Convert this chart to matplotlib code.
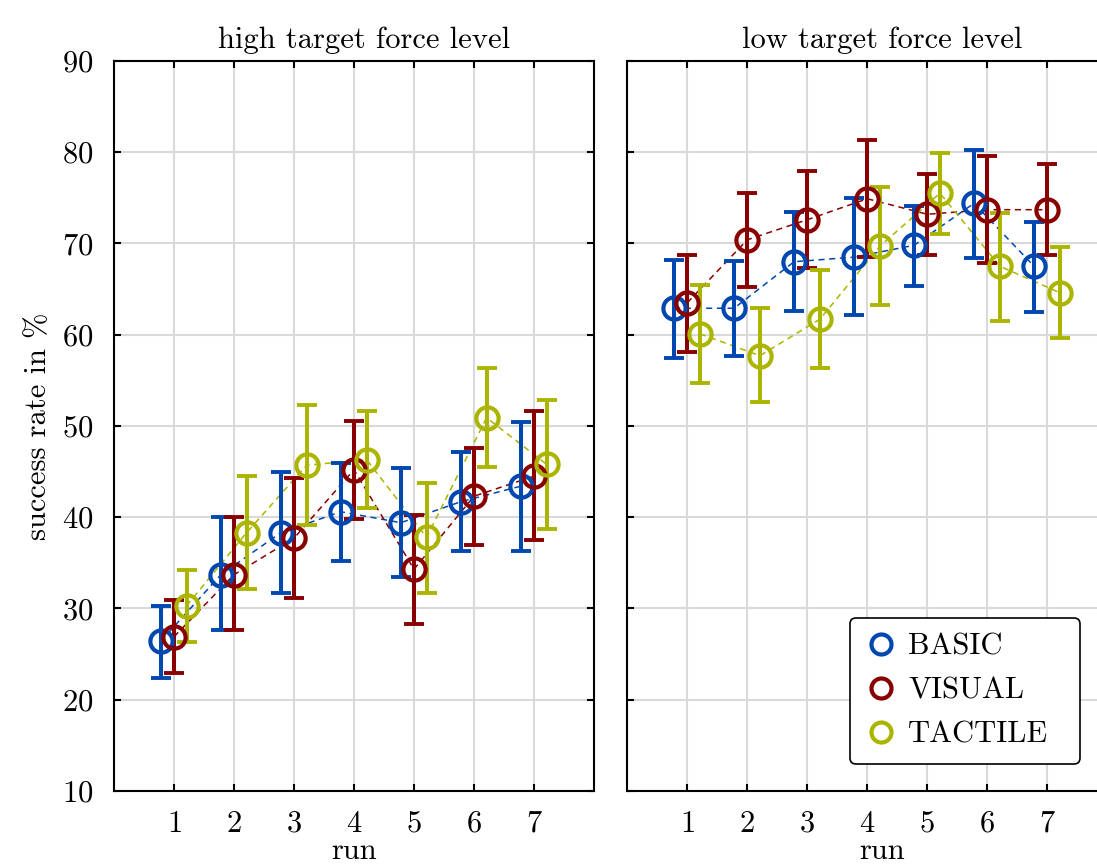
import numpy as np
import matplotlib
matplotlib.use('Agg')
import matplotlib.pyplot as plt

plt.rcParams['font.family'] = ['cmr10', 'DejaVu Serif']
plt.rcParams['mathtext.fontset'] = 'cm'
plt.rcParams['axes.formatter.use_mathtext'] = True
plt.rcParams['font.size'] = 22

runs = np.arange(1, 8)
groups = ['BASIC', 'VISUAL', 'TACTILE']
colors = ['#0047b0', '#880000', '#abb500']
offsets = [-0.22, 0.0, 0.21]

# high target force level: mean, lower end, upper end of error bar
high_mean = {
    'BASIC':   [26.4, 33.7, 38.3, 40.6, 39.4, 41.7, 43.4],
    'VISUAL':  [26.9, 33.7, 37.7, 45.2, 34.3, 42.3, 44.5],
    'TACTILE': [30.3, 38.3, 45.7, 46.3, 37.8, 50.9, 45.8],
}
high_low = {
    'BASIC':   [22.4, 27.6, 31.7, 35.2, 33.4, 36.3, 36.3],
    'VISUAL':  [22.9, 27.6, 31.1, 39.8, 28.3, 37.0, 37.5],
    'TACTILE': [26.3, 32.1, 39.2, 41.0, 31.7, 45.5, 38.7],
}
high_up = {
    'BASIC':   [30.3, 40.0, 44.9, 45.9, 45.4, 47.1, 50.4],
    'VISUAL':  [30.9, 40.0, 44.3, 50.5, 40.2, 47.6, 51.6],
    'TACTILE': [34.2, 44.5, 52.3, 51.6, 43.7, 56.3, 52.8],
}

# low target force level
low_mean = {
    'BASIC':   [62.9, 62.9, 68.0, 68.5, 69.8, 74.4, 67.5],
    'VISUAL':  [63.5, 70.4, 72.6, 74.9, 73.2, 73.7, 73.7],
    'TACTILE': [60.1, 57.7, 61.7, 69.7, 75.5, 67.5, 64.6],
}
low_low = {
    'BASIC':   [57.5, 57.7, 62.6, 62.2, 65.3, 68.4, 62.5],
    'VISUAL':  [58.1, 65.2, 67.3, 68.5, 68.7, 67.9, 68.7],
    'TACTILE': [54.7, 52.6, 56.4, 63.3, 71.0, 61.5, 59.6],
}
low_up = {
    'BASIC':   [68.2, 68.1, 73.4, 75.0, 74.1, 80.2, 72.4],
    'VISUAL':  [68.7, 75.5, 77.9, 81.3, 77.6, 79.6, 78.7],
    'TACTILE': [65.4, 62.9, 67.1, 76.2, 79.9, 73.3, 69.6],
}

fig = plt.figure(figsize=(10.97, 8.67), dpi=100)
ax1 = fig.add_axes([0.1039, 0.0877, 0.4376, 0.8420])
# right panel runs past the figure edge, as in the original
ax2 = fig.add_axes([0.5718, 0.0877, 0.4650, 0.8420])


def draw(ax, mean, low, up, title, xmax, title_x):
    for g, c, off in zip(groups, colors, offsets):
        m = np.array(mean[g])
        lo = m - np.array(low[g])
        hi = np.array(up[g]) - m
        x = runs + off
        ax.plot(x, m, '--', color=c, lw=1.1, dashes=(4, 3), zorder=2)
        ax.errorbar(x, m, yerr=[lo, hi], fmt='none', ecolor=c, elinewidth=2.9,
                    capsize=7, capthick=2.8, zorder=3)
        ax.plot(x, m, 'o', mfc='none', mec=c, mew=3.0, ms=16, zorder=4,
                label=g, ls='none')
    ax.set_xlim(0, xmax)
    ax.set_ylim(10, 90)
    ax.set_xticks(runs)
    ax.set_yticks(np.arange(10, 91, 10))
    ax.grid(True, color='#d9d9d9', lw=1.5)
    ax.set_axisbelow(True)
    ax.tick_params(direction='in', length=5, width=1.5, top=True, right=True,
                   labelsize=22)
    ax.tick_params(axis='x', pad=14)
    ax.tick_params(axis='y', pad=15)
    for s in ax.spines.values():
        s.set_linewidth(1.5)
    ax.set_title(title, fontsize=22, pad=9, x=title_x)
    ax.set_xlabel('run', fontsize=22, labelpad=0)


draw(ax1, high_mean, high_low, high_up, 'high target force level', 8, 0.52)
draw(ax2, low_mean, low_low, low_up, 'low target force level',
     8 * 0.4650 / 0.4376, 0.5)
ax1.set_ylabel('success rate in %', labelpad=7)
ax2.tick_params(labelleft=False)

leg = ax2.legend(loc='lower left', mode='expand',
                 bbox_to_anchor=(850 / 1097, 1 - 764 / 867, 230 / 1097, 150 / 867),
                 bbox_transform=fig.transFigure, borderaxespad=0,
                 frameon=True, fancybox=True, edgecolor='black', framealpha=1,
                 handletextpad=0.4, borderpad=0.5, labelspacing=0.55,
                 handlelength=1.0, markerscale=0.9)
leg.get_frame().set_linewidth(1.2)

fig.savefig('out.png', dpi=100)
